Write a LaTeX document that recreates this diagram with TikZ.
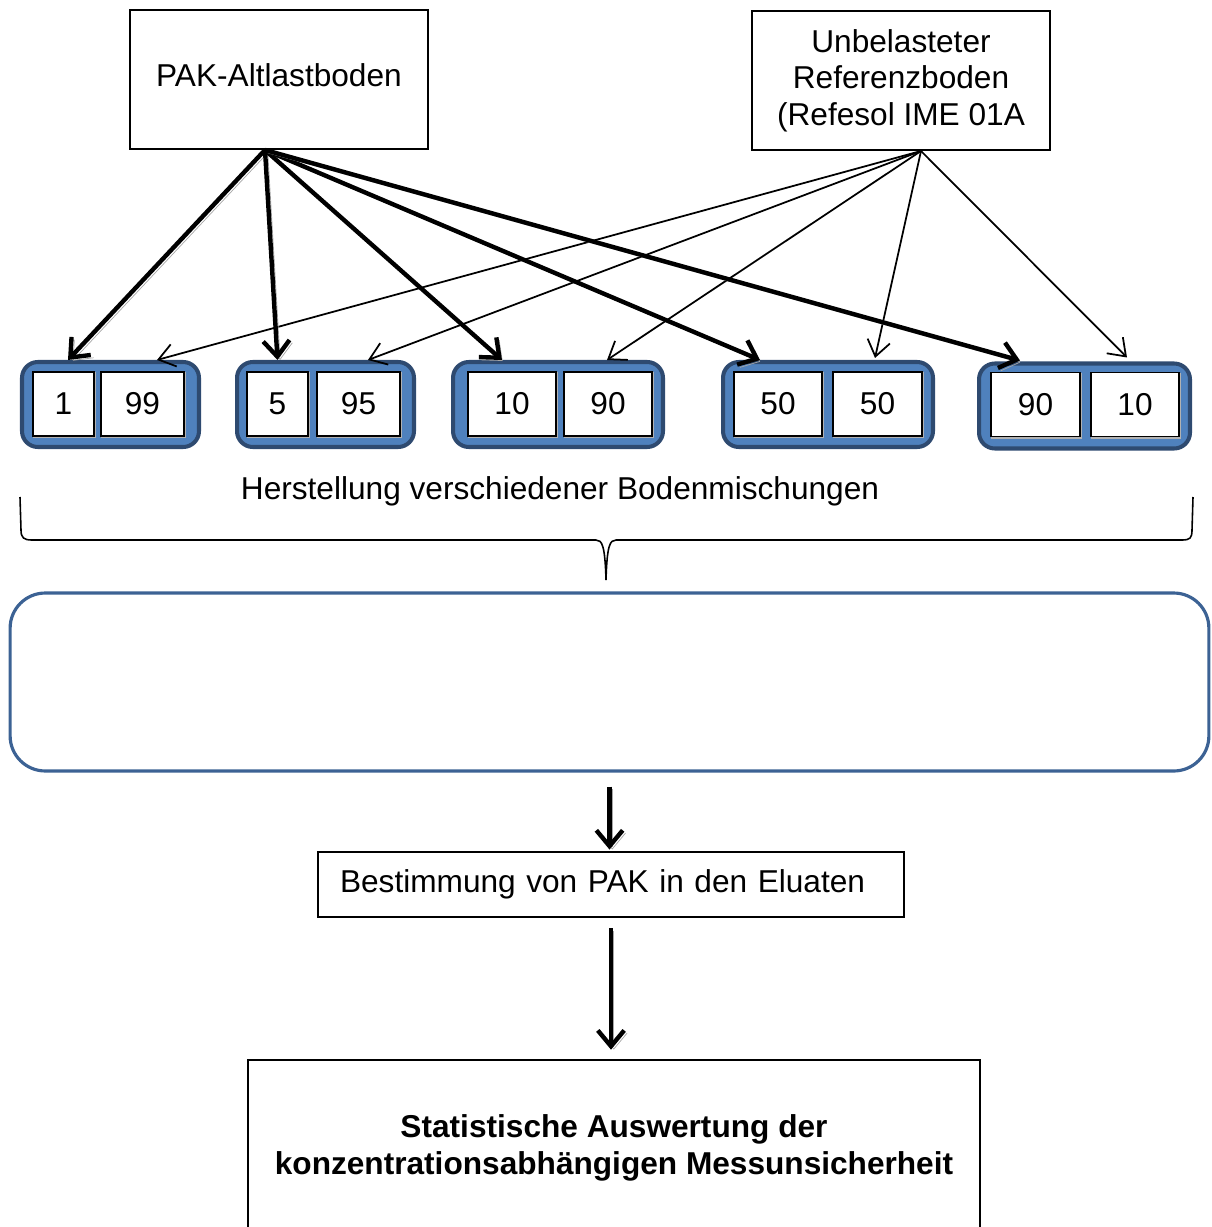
\documentclass[tikz,border=0pt]{standalone}
\usepackage{fontspec}
\setmainfont{Liberation Sans}
\usetikzlibrary{arrows.meta,calc}

\definecolor{mixfill}{RGB}{79,129,189}
\definecolor{mixline}{RGB}{46,74,112}
\definecolor{boxline}{RGB}{60,98,148}

\begin{document}
\begin{tikzpicture}[x=0.02cm, y=-0.02cm,
  every node/.style={font=\fontsize{18}{20.7}\selectfont, align=center, inner sep=0pt},
  plainbox/.style={draw, line width=0.8pt, fill=white},
  mixbox/.style={draw=mixline, fill=mixfill, line width=2.3pt, rounded corners=9pt, minimum height=1.70cm},
  partbox/.style={draw, fill=white, line width=1.1pt, minimum height=1.28cm,
    preaction={draw=black!30, transform canvas={shift={(0.8pt,-0.8pt)}}}},
  pakarrow/.style={line width=2.5pt, -{Straight Barb[length=9pt,width=15pt]},
    preaction={draw=black!35, transform canvas={shift={(1.6pt,-1.6pt)}}}},
  refarrow/.style={line width=1pt, -{Straight Barb[length=9pt,width=13pt]}}]
\useasboundingbox (0,0) rectangle (1211,1227);
\clip (0,0) rectangle (1211,1227);

\node[plainbox, minimum width=5.96cm, minimum height=2.78cm, text depth=0.16cm] (pak) at (279,79.5) {PAK-Altlastboden};
\node[plainbox, minimum width=5.96cm, minimum height=2.78cm] (ref) at (901,80.5) {Unbelasteter\\Referenzboden\\(Refesol IME 01A};
\coordinate (pakout) at (265,150);
\coordinate (refout) at (921,151);

\node[mixbox, minimum width=3.54cm] (mix1) at (110.5,404.5) {};
\node[partbox, minimum width=1.22cm] (m1a) at (63.5,404) {1};
\node[partbox, minimum width=1.66cm] (m1b) at (142.5,404) {99};
\node[mixbox, minimum width=3.54cm] (mix2) at (325.5,404.5) {};
\node[partbox, minimum width=1.22cm] (m2a) at (277.5,404) {5};
\node[partbox, minimum width=1.66cm] (m2b) at (358.5,404) {95};
\node[mixbox, minimum width=4.2cm] (mix3) at (558,404.5) {};
\node[partbox, minimum width=1.76cm] (m3a) at (512,404) {10};
\node[partbox, minimum width=1.76cm] (m3b) at (608,404) {90};
\node[mixbox, minimum width=4.2cm] (mix4) at (828,404.5) {};
\node[partbox, minimum width=1.76cm] (m4a) at (778,404) {50};
\node[partbox, minimum width=1.78cm] (m4b) at (877.5,404) {50};
\node[mixbox, minimum width=4.22cm] (mix5) at (1084.5,406) {};
\node[partbox, minimum width=1.78cm] (m5a) at (1035.5,404.5) {90};
\node[partbox, minimum width=1.76cm] (m5b) at (1135,404.5) {10};

\draw[refarrow] (refout) -- ($(m1b.north |- mix1.north)+(14.5,0)$);
\draw[refarrow] (refout) -- ($(m2b.north |- mix2.north)+(9.5,0)$);
\draw[refarrow] (refout) -- ($(m3b.north |- mix3.north)+(-1,0)$);
\draw[refarrow] (refout) -- ($(m4b.north |- mix4.north)+(-2.5,-2)$);
\draw[refarrow] (refout) -- ($(m5b.north |- mix5.north)+(-8,-4)$);
\draw[pakarrow] (pakout) -- ($(m1a.north |- mix1.north)+(4.5,0)$);
\draw[pakarrow] (pakout) -- (m2a.north |- mix2.north);
\draw[pakarrow] (pakout) -- ($(m3a.north |- mix3.north)+(-10,0)$);
\draw[pakarrow] (pakout) -- ($(m4a.north |- mix4.north)+(-18,0)$);
\draw[pakarrow] (pakout) -- ($(m5a.north |- mix5.north)+(-15.5,-1)$);

\node (herst) at (560,491) {Herstellung verschiedener Bodenmischungen};
\draw[line width=0.9pt] (20,497) -- (21,530) .. controls (21,538) and (24,540) .. (32,540)
  -- (596,540) .. controls (602,540) and (605,545) .. (606,580)
  .. controls (607,545) and (610,540) .. (616,540) -- (1182,540)
  .. controls (1190,540) and (1192,538) .. (1192,530) -- (1193,497);

\node[draw=boxline, line width=1.8pt, rounded corners=20pt, minimum width=23.98cm, minimum height=3.56cm] (mess) at (609.5,682) {};
\node[plainbox, text width=10.84cm, inner xsep=0.44cm, minimum height=1.30cm, align=left] (best) at (611,884.5) {Bestimmung von PAK in den Eluaten};
\node[plainbox, minimum width=14.64cm, minimum height=3.52cm, font={\fontsize{18}{20.7}\selectfont\bfseries}] (final) at (614,1148) {Statistische Auswertung der\\konzentrationsabhängigen Messunsicherheit};

\draw[pakarrow, shorten <=8pt, shorten >=1pt] (mess.south) -- (mess.south |- best.north);
\draw[pakarrow, shorten <=6pt, shorten >=5.5pt] (best.south) -- (best.south |- final.north);
\end{tikzpicture}
\end{document}
